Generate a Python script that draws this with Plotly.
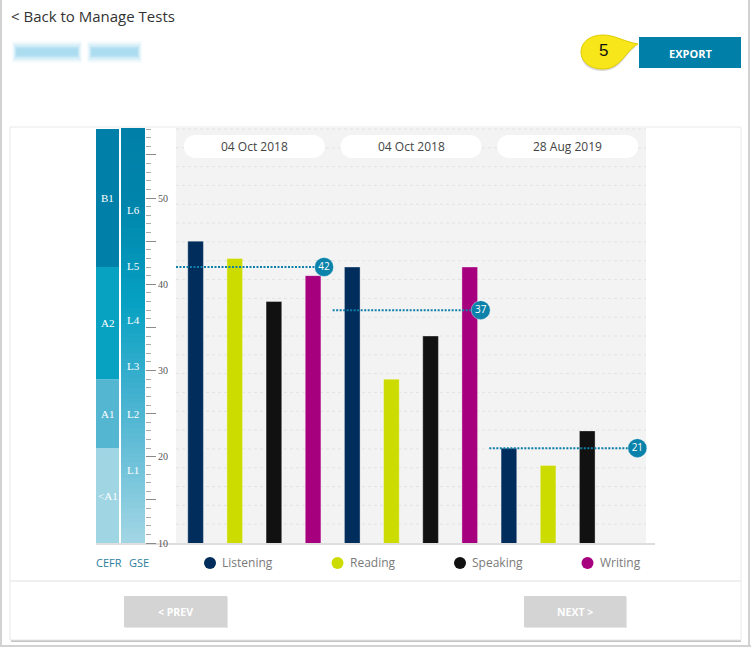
import plotly.graph_objects as go

# ---------------- data ----------------
test_dates = ['04 Oct 2018', '04 Oct 2018', '28 Aug 2019']
skills = ['Listening', 'Reading', 'Speaking', 'Writing']
listening = [45, 42, 21]
reading = [43, 29, 19]
speaking = [38, 34, 23]
writing = [41, 42, None]
overall = [42, 37, 21]
skill_colors = ['#002D5C', '#CCDC00', '#111111', '#A6007E']

cefr_levels = ['<A1', 'A1', 'A2', 'B1']
cefr_bounds = [10, 21, 29, 42, 58]
cefr_colors = ['#A0D5E4', '#55B6D1', '#07A1C2', '#0080A8']
gse_levels = ['L1', 'L2', 'L3', 'L4', 'L5', 'L6']
gse_label_at = [18.5, 25, 30.5, 35.8, 42.1, 48.6]

# ---------------- page geometry helpers ----------------
W, H = 751, 647
def px(x): return x / W
def py(y): return 1 - y / H

Y0, Y1 = 10, 58
PLOT_L, PLOT_R, PLOT_T, PLOT_B = 176, 646, 129, 543

def ypix(v):
    return PLOT_B - (v - Y0) * (PLOT_B - PLOT_T) / (Y1 - Y0)

series = [listening, reading, speaking, writing]
n_groups = len(test_dates)
n_sk = len(skills)

fig = go.Figure()

for k, (name, vals, col) in enumerate(zip(skills, series, skill_colors)):
    fig.add_trace(go.Bar(
        x=[g * n_sk + k for g in range(n_groups)], y=vals, width=0.4,
        marker=dict(color=col, line=dict(color='rgba(255,255,255,0.35)', width=1)),
        name=name, showlegend=False, hoverinfo='skip'))

for g, v in enumerate(overall):
    fig.add_trace(go.Scatter(
        x=[g * n_sk - 0.5, g * n_sk + 3.28], y=[v, v], mode='lines',
        line=dict(color='#0E7FA8', width=2, dash='2px,1.5px'),
        showlegend=False, hoverinfo='skip', cliponaxis=False))
    fig.add_trace(go.Scatter(
        x=[g * n_sk + 3.28], y=[v], mode='markers+text', text=[str(v)],
        textposition='middle center',
        textfont=dict(family='Open Sans', size=10, color='white'),
        marker=dict(size=19, color='#0A82AA', line=dict(color='rgba(255,255,255,0.4)', width=1)),
        showlegend=False, hoverinfo='skip', cliponaxis=False))

# invisible trace for GSE scale axis
fig.add_trace(go.Scatter(x=[None], y=[None], yaxis='y2', showlegend=False))

shapes = []
def rect(x0, y0, x1, y1, fill, line=None, lw=0, opacity=1):
    shapes.append(dict(type='rect', xref='paper', yref='paper', layer='below',
                       x0=px(x0), x1=px(x1), y0=py(y1), y1=py(y0), opacity=opacity,
                       fillcolor=fill, line=dict(color=line or fill, width=lw)))
def hline(x0, x1, y, color, w=1, dash='solid'):
    shapes.append(dict(type='line', xref='paper', yref='paper', layer='below',
                       x0=px(x0), x1=px(x1), y0=py(y), y1=py(y),
                       line=dict(color=color, width=w, dash=dash)))
def vline(x, y0, y1, color, w=1):
    shapes.append(dict(type='line', xref='paper', yref='paper', layer='below',
                       x0=px(x), x1=px(x), y0=py(y0), y1=py(y1),
                       line=dict(color=color, width=w)))
def path(cmds, fill, line, lw=1, opacity=1):
    s = ''
    for c in cmds:
        op, pts = c[0], c[1:]
        s += op + ' ' + ' '.join(f'{px(a):.5f},{py(b):.5f}' for a, b in pts) + ' '
    shapes.append(dict(type='path', xref='paper', yref='paper', layer='below',
                       path=s + 'Z', fillcolor=fill, opacity=opacity,
                       line=dict(color=line, width=lw)))

# page frame
vline(1, 0, 647, '#d2d2d2', 2)
vline(749, 0, 647, '#d2d2d2', 2)
hline(0, 751, 646, '#d2d2d2', 2)

# card
rect(11, 129, 741, 642, '#c4c4c4')
rect(10, 127, 741, 640, 'white', '#e8e8e8', 1)
# gray plot area
rect(PLOT_L, 127, PLOT_R, PLOT_B, '#F3F3F3')
n_grid = 22
for i in range(n_grid):
    yy = PLOT_T + i * (PLOT_B - PLOT_T) / n_grid
    hline(PLOT_L, PLOT_R, yy, '#E3E3E3', 1, 'dot')

# date pills (x in data units)
slot = (PLOT_R - PLOT_L) / 12.0
for g in range(n_groups):
    c = g * n_sk + 1.5
    half = 70.5 / slot
    r = 11.5 / slot
    y0p, y1p = py(158), py(135)
    ym = (y0p + y1p) / 2
    k = 0.5523
    x0, x1 = c - half, c + half
    p = (f'M {x0 + r},{y1p} L {x1 - r},{y1p} '
         f'C {x1 - r + k * r},{y1p} {x1},{ym + k * (y1p - ym)} {x1},{ym} '
         f'C {x1},{ym - k * (y1p - ym)} {x1 - r + k * r},{y0p} {x1 - r},{y0p} '
         f'L {x0 + r},{y0p} '
         f'C {x0 + r - k * r},{y0p} {x0},{ym - k * (y1p - ym)} {x0},{ym} '
         f'C {x0},{ym + k * (y1p - ym)} {x0 + r - k * r},{y1p} {x0 + r},{y1p} Z')
    shapes.append(dict(type='path', xref='x', yref='paper', layer='below', path=p,
                       fillcolor='white', line=dict(color='white', width=0)))

# CEFR column
for i, lev in enumerate(cefr_levels):
    rect(96, ypix(cefr_bounds[i + 1]), 119, ypix(cefr_bounds[i]), cefr_colors[i])
# GSE gradient column
stops = [(128, (0, 128, 168)), (200, (0, 132, 171)), (300, (5, 160, 194)),
         (400, (69, 178, 208)), (543, (163, 214, 229))]
def colat(y):
    for (ya, ca), (yb, cb) in zip(stops[:-1], stops[1:]):
        if ya <= y <= yb:
            t = (y - ya) / (yb - ya)
            return 'rgb(%d,%d,%d)' % tuple(round(a + (b - a) * t) for a, b in zip(ca, cb))
    return 'rgb(%d,%d,%d)' % stops[-1][1]
nstep = 83
for i in range(nstep):
    ya = 128 + i * (543 - 128) / nstep
    yb = 128 + (i + 1) * (543 - 128) / nstep
    rect(121, ya, 145, yb + 0.6, colat((ya + yb) / 2))

# baseline
hline(96, 655, 544, '#dedede', 2)
# separator
hline(10, 741, 581, '#ebebeb', 1.5)
# buttons
rect(125, 597, 228, 628, '#e6e6e6')
rect(124, 596, 227, 627, '#D4D4D4')
rect(525, 597, 627, 628, '#e6e6e6')
rect(524, 596, 626, 627, '#D4D4D4')
rect(639, 37, 741, 68, '#0080A8')

# callout
path([('M', (636, 47)), ('C', (626, 52), (622, 71), (602, 71)), ('C', (588, 71), (581, 63), (581, 54)),
      ('C', (581, 44), (590, 37), (602, 37)), ('C', (614, 37), (622, 44), (636, 47))],
     'rgba(0,0,0,0.15)', 'rgba(0,0,0,0)', 0)
path([('M', (638, 44)), ('C', (626, 50), (621, 69), (603, 69)), ('C', (589, 69), (581, 61), (581, 52)),
      ('C', (581, 42), (590, 35), (603, 35)), ('C', (615, 35), (622, 41), (638, 44))],
     '#F6E61A', '#E2CC00', 1)

# blurred name (unreadable in the reference) - soft layered blobs
for inset, op in [(0, 0.06), (1.5, 0.08), (3, 0.11), (4.5, 0.14), (6, 0.18), (7.5, 0.2)]:
    rect(12 + inset * 0.6, 41 + inset, 82 - inset * 0.6, 63 - inset, '#6FC4E8', opacity=op)
    rect(87 + inset * 0.6, 41 + inset, 142 - inset * 0.6, 63 - inset, '#6FC4E8', opacity=op)

# legend dots
legend_x = [210, 337.5, 460, 587.5]
for xc, col in zip(legend_x, skill_colors):
    shapes.append(dict(type='circle', xref='paper', yref='paper', layer='below',
                       x0=px(xc - 6), x1=px(xc + 6), y0=py(569), y1=py(557),
                       fillcolor=col, line=dict(color=col, width=0)))

ann = []
def text(x, y, s, size=12, color='#444', xanchor='center', family='Open Sans', bold=False):
    ann.append(dict(x=px(x), y=py(y), xref='paper', yref='paper', text=f'<b>{s}</b>' if bold else s,
                    showarrow=False, xanchor=xanchor, yanchor='middle',
                    font=dict(family=family, size=size, color=color)))

text(9, 16, '&lt; Back to Manage Tests', 15, '#333', 'left')
text(690, 53, 'EXPORT', 11, 'white', bold=True)
text(603, 50, '5', 17, '#111', family='Liberation Sans')
text(175.5, 612, '&lt; PREV', 10.5, 'white', bold=True)
text(575, 612, 'NEXT &gt;', 10.5, 'white', bold=True)
for g, d in enumerate(test_dates):
    cx = PLOT_L + (g * n_sk + 2) * slot
    text(cx, 146.5, d, 12, '#444')
for i, lev in enumerate(cefr_levels):
    mid = (cefr_bounds[i] + cefr_bounds[i + 1]) / 2
    text(107.5, ypix(mid), lev, 11, 'white', family='Liberation Serif')
for lev, v in zip(gse_levels, gse_label_at):
    text(133, ypix(v), lev, 11, 'white', family='Liberation Serif')
text(109, 562, 'CEFR', 11, '#2B7E9C')
text(139, 562, 'GSE', 11, '#2B7E9C')
for xc, s in zip(legend_x, skills):
    text(xc + 10, 562.5, s, 12, '#7a7a7a', 'left')

fig.update_layout(
    width=W, height=H, autosize=False, margin=dict(l=0, r=0, t=0, b=0, pad=0, autoexpand=False),
    paper_bgcolor='white', plot_bgcolor='rgba(0,0,0,0)',
    barmode='overlay', showlegend=False,
    xaxis=dict(domain=[px(PLOT_L), px(PLOT_R)], range=[-0.5, 11.5], visible=False, fixedrange=True),
    yaxis=dict(domain=[py(PLOT_B), py(PLOT_T)], range=[Y0, Y1], visible=False, fixedrange=True),
    yaxis2=dict(overlaying='y', anchor='free', position=px(145), side='right',
                range=[Y0, Y1], showgrid=False, zeroline=False, showline=False,
                tickmode='array', tickvals=[10, 15, 20, 25, 30, 35, 40, 45, 50, 55],
                ticktext=['10', '', '20', '', '30', '', '40', '', '50', ''],
                ticks='outside', ticklen=10, tickwidth=1, tickcolor='#8a8a8a',
                tickfont=dict(family='Liberation Serif', size=10, color='#555'),
                minor=dict(tickmode='linear', tick0=10, dtick=1, ticks='outside',
                           ticklen=5, tickcolor='#aaaaaa', tickwidth=1)),
    shapes=shapes, annotations=ann,
)

css = ("var d=document.documentElement;d.style.margin='0';d.style.padding='0';d.style.overflow='hidden';"
       "document.body.style.margin='0';document.body.style.padding='0';document.body.style.overflow='hidden';")
fig.write_html('out.html', config={'displayModeBar': False}, post_script=css)
